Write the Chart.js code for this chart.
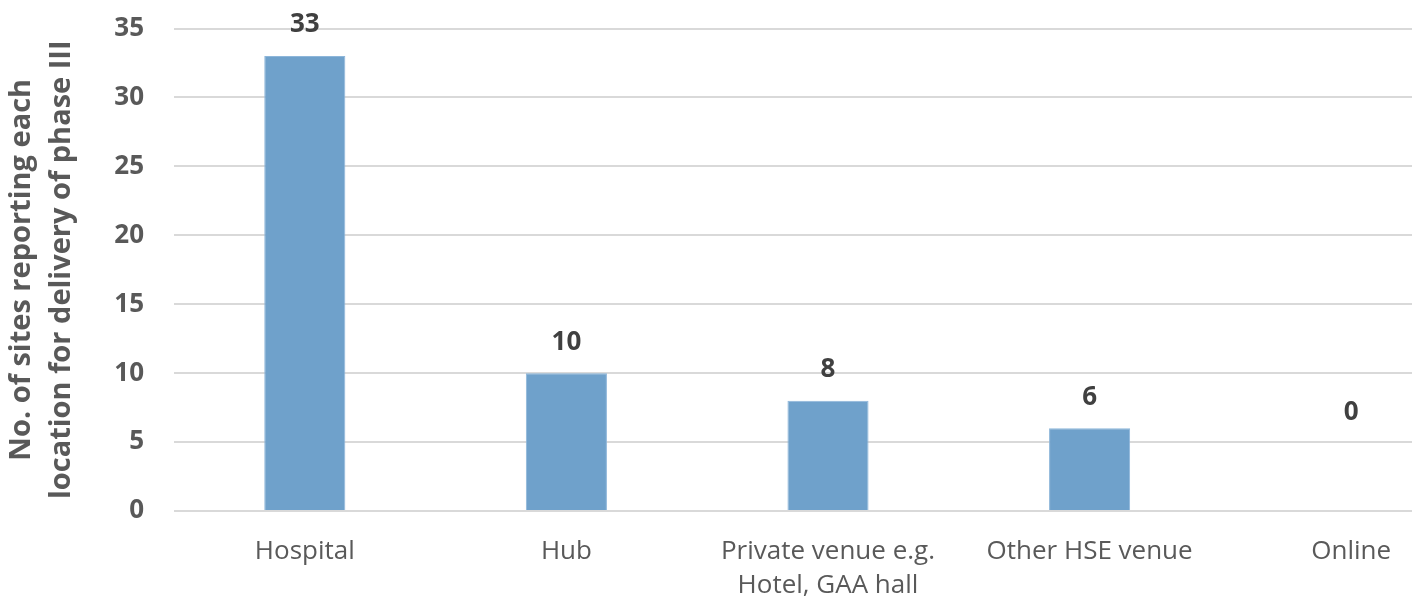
<!DOCTYPE html>
<html>
<head>
<meta charset="utf-8">
<script src="https://cdn.jsdelivr.net/npm/chart.js@4/dist/chart.umd.min.js"></script>
<style>
html,body{margin:0;padding:0;background:#fff;overflow:hidden;width:1412px;height:605px;}
#c{display:block;}
</style>
</head>
<body>
<canvas id="c" width="1484" height="605"></canvas>
<script>
const categories = [["Hospital"], ["Hub"], ["Private venue e.g.", "Hotel, GAA hall"], ["Other HSE venue"], ["Online"]];
const siteCounts = [33, 10, 8, 6, 0];
const yTicks = [0, 5, 10, 15, 20, 25, 30, 35];
const yTitle = ["No. of sites reporting each", "location for delivery of phase III"];

const barLabels = {
  id: 'barLabels',
  afterDatasetsDraw(chart) {
    const ctx = chart.ctx;
    const meta = chart.getDatasetMeta(0);
    ctx.save();
    ctx.font = 'bold 26px "Open Sans"';
    ctx.fillStyle = '#404040';
    ctx.textAlign = 'center';
    ctx.textBaseline = 'middle';
    meta.data.forEach((bar, i) => {
      const v = chart.data.datasets[0].data[i];
      const off = v === 0 ? 98 : 31;
      ctx.fillText(String(v), bar.x, bar.y - off);
    });
    ctx.restore();
  }
};

new Chart(document.getElementById('c'), {
  type: 'bar',
  data: {
    labels: categories,
    datasets: [{
      data: siteCounts,
      backgroundColor: '#6FA1CB',
      borderColor: '#8DB6DA',
      borderWidth: 1,
      barPercentage: 0.62,
      categoryPercentage: 0.5
    }]
  },
  options: {
    responsive: false,
    animation: false,
    layout: { padding: { top: 28.5, right: 2, bottom: 0, left: 0 } },
    plugins: { legend: { display: false }, tooltip: { enabled: false } },
    scales: {
      x: {
        grid: { display: false, drawTicks: false },
        border: { display: false },
        ticks: {
          color: '#595959',
          font: { family: '"Open Sans"', size: 26, lineHeight: 1.3 },
          padding: 24,
          maxRotation: 0,
          autoSkip: false
        },
        afterFit(s) { s.height = 94; }
      },
      y: {
        min: 0,
        max: 35,
        afterBuildTicks(s) { s.ticks = yTicks.map(v => ({ value: v })); },
        grid: { color: '#D9D9D9', lineWidth: 2, drawTicks: false },
        border: { display: false },
        ticks: {
          color: '#595959',
          font: { family: '"Open Sans"', size: 26, weight: 'bold' },
          padding: 30
        },
        title: {
          display: true,
          text: yTitle,
          color: '#595959',
          font: { family: '"Open Sans"', size: 29, weight: 'bold', lineHeight: 1.38 },
          padding: { top: 2, bottom: 0 }
        },
        afterFit(s) { s.width = 174; s.paddingTop = 0; s.paddingBottom = 0; }
      }
    }
  },
  plugins: [barLabels]
});
</script>
</body>
</html>
